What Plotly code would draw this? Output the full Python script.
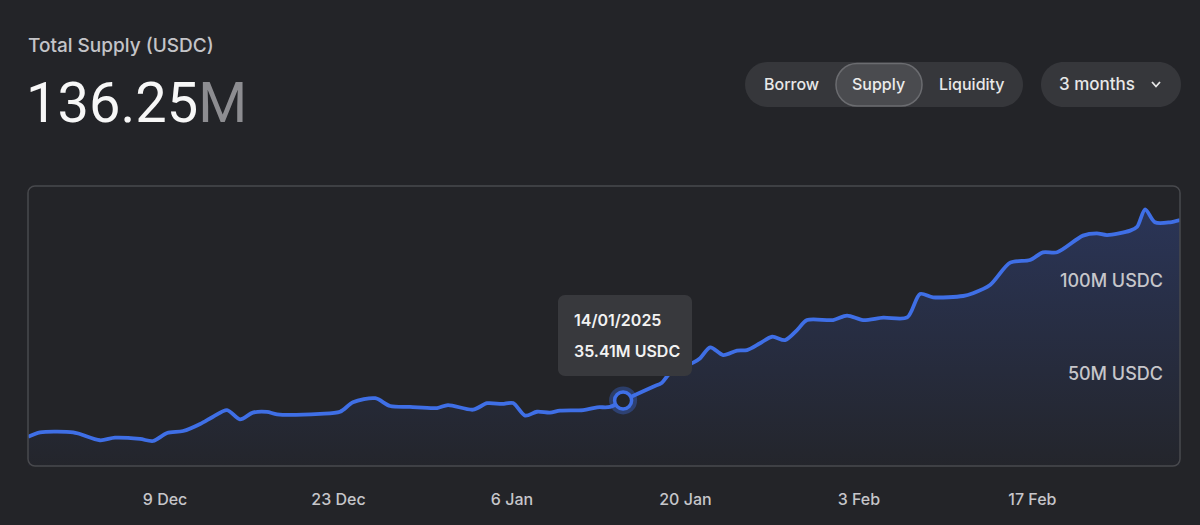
import plotly.graph_objects as go

# ---------------- data ----------------
dates = [
    "2024-11-27 22:30", "2024-11-28 22:00", "2024-12-01 14:00", "2024-12-02 03:00",
    "2024-12-03 18:00", "2024-12-04 23:00", "2024-12-06 23:30", "2024-12-08 00:45",
    "2024-12-09 04:00", "2024-12-10 11:00", "2024-12-11 20:00", "2024-12-12 21:00",
    "2024-12-14 00:00", "2024-12-15 01:00", "2024-12-16 02:00", "2024-12-17 05:30",
    "2024-12-18 01:00", "2024-12-21 12:00", "2024-12-23 03:00", "2024-12-24 04:00",
    "2024-12-25 23:00", "2024-12-27 04:00", "2024-12-28 18:30", "2024-12-30 23:00",
    "2024-12-31 20:00", "2025-01-02 20:30", "2025-01-04 00:00", "2025-01-05 05:00",
    "2025-01-06 02:00", "2025-01-07 01:30", "2025-01-08 00:30", "2025-01-09 01:30",
    "2025-01-09 21:00", "2025-01-11 18:00", "2025-01-12 21:00", "2025-01-13 22:00",
    "2025-01-14 23:15", "2025-01-16 02:30", "2025-01-17 09:30", "2025-01-18 02:30",
    "2025-01-18 18:00", "2025-01-20 15:00", "2025-01-21 04:30", "2025-01-22 00:00",
    "2025-01-23 01:00", "2025-01-24 04:00", "2025-01-24 23:15", "2025-01-26 00:30",
    "2025-01-27 00:00", "2025-01-28 01:00", "2025-01-29 00:15", "2025-01-29 19:40",
    "2025-01-31 22:00", "2025-02-02 01:00", "2025-02-03 08:00", "2025-02-04 23:00",
    "2025-02-06 21:30", "2025-02-07 22:30", "2025-02-08 23:45", "2025-02-11 10:00",
    "2025-02-12 05:00", "2025-02-13 14:00", "2025-02-15 05:00", "2025-02-16 19:30",
    "2025-02-17 20:40", "2025-02-19 00:00", "2025-02-21 02:00", "2025-02-22 05:00",
    "2025-02-23 00:45", "2025-02-24 21:30", "2025-02-25 11:00", "2025-02-26 02:30",
    "2025-02-26 21:30", "2025-02-28 02:40", "2025-02-28 22:00",
]
supply_musdc = [
    15.8, 18.2, 18.2, 17.3,
    13.9, 15.3, 14.6, 13.5,
    17.8, 18.9, 22.7, 26.6,
    30.2, 25.2, 28.8, 29.2,
    27.9, 28.2, 29.3, 34.4,
    36.6, 32.4, 31.9, 31.3,
    32.9, 30.4, 33.9, 33.5,
    34.0, 27.2, 29.3, 28.8,
    29.9, 30.2, 31.7, 31.9,
    35.41, 38.9, 42.8, 45.0,
    50.1, 55.8, 58.2, 64.1,
    59.9, 62.3, 62.6, 66.3,
    69.8, 68.0, 73.4, 78.8,
    78.8, 81.2, 78.8, 80.1,
    80.2, 92.9, 91.1, 91.8,
    93.3, 97.7, 109.8, 111.2,
    115.4, 115.4, 124.4, 125.6,
    124.7, 127.1, 129.2, 138.6,
    131.6, 131.6, 132.8,
]
x_tick_vals = ["2024-12-09", "2024-12-23", "2025-01-06", "2025-01-20", "2025-02-03", "2025-02-17"]
x_tick_text = ["9 Dec", "23 Dec", "6 Jan", "20 Jan", "3 Feb", "17 Feb"]
y_tick_vals = [50, 100]
y_tick_text = ["50M USDC", "100M USDC"]
x_range = ["2024-11-27 22:30", "2025-02-28 22:00"]
y_range = [0, 151.2]

hover_index = 36
hover_label_date = "14/01/2025"
hover_label_value = "35.41M USDC"

title_text = "Total Supply (USDC)"
headline_number = "136.25"
headline_unit = "M"
tabs = ["Borrow", "Supply", "Liquidity"]
period_text = "3 months"

# ---------------- layout helpers ----------------
W, H = 1200, 525
L, R, T, B = 28, 1180, 186, 466
PW, PH = R - L, B - T

BG = "#232428"
BLUE = "#3f6fe6"


def px(x, y):
    return (x - L) / PW, (B - y) / PH


def rrect(x0, y0, x1, y1, r):
    k = 0.5523 * r

    def P(x, y):
        a, b = px(x, y)
        return f"{a:.6f},{b:.6f}"

    d = f"M{P(x0 + r, y0)} L{P(x1 - r, y0)} "
    d += f"C{P(x1 - r + k, y0)} {P(x1, y0 + r - k)} {P(x1, y0 + r)} "
    d += f"L{P(x1, y1 - r)} "
    d += f"C{P(x1, y1 - r + k)} {P(x1 - r + k, y1)} {P(x1 - r, y1)} "
    d += f"L{P(x0 + r, y1)} "
    d += f"C{P(x0 + r - k, y1)} {P(x0, y1 - r + k)} {P(x0, y1 - r)} "
    d += f"L{P(x0, y0 + r)} "
    d += f"C{P(x0, y0 + r - k)} {P(x0 + r - k, y0)} {P(x0 + r, y0)} Z"
    return d


def shape_rr(x0, y0, x1, y1, r, fill, line=None, lw=0):
    return dict(type="path", xref="paper", yref="paper", path=rrect(x0, y0, x1, y1, r),
                fillcolor=fill, line=dict(color=line or "rgba(0,0,0,0)", width=lw),
                layer="above")


def text(x, y, s, size, color, anchor="center", family="Inter", weight=400):
    a, b = px(x, y)
    return dict(x=a, y=b, xref="paper", yref="paper", text=s, showarrow=False,
                xanchor=anchor, yanchor="middle",
                font=dict(family=family, size=size, color=color, weight=weight))


fig = go.Figure()

fig.add_trace(go.Scatter(
    x=dates, y=supply_musdc, mode="lines",
    line=dict(color=BLUE, width=3.8, shape="spline", smoothing=0.8),
    fill="tozeroy",
    fillgradient=dict(type="vertical",
                      colorscale=[[0, "rgba(63,100,220,0.02)"], [1, "rgba(63,100,220,0.26)"]]),
    hoverinfo="skip", showlegend=False,
))

# hover marker
fig.add_trace(go.Scatter(
    x=[dates[hover_index]], y=[supply_musdc[hover_index]], mode="markers",
    marker=dict(size=28, color="rgba(63,111,230,0.35)", line=dict(width=0)),
    hoverinfo="skip", showlegend=False,
))
fig.add_trace(go.Scatter(
    x=[dates[hover_index]], y=[supply_musdc[hover_index]], mode="markers",
    marker=dict(size=17, color=BG, line=dict(width=3.5, color=BLUE)),
    hoverinfo="skip", showlegend=False,
))

shapes = []
# plot border
shapes.append(dict(type="path", xref="paper", yref="paper", path=rrect(L, T, R, B, 7),
                   fillcolor="rgba(0,0,0,0)", line=dict(color="#48494d", width=1.5),
                   layer="above"))
# tooltip
shapes.append(shape_rr(558, 295, 692, 376, 7, "#38393d"))
# tabs group
shapes.append(shape_rr(745, 62, 1023, 107, 22.5, "#36373b"))
shapes.append(shape_rr(836, 63.5, 922, 106, 21, "#4a4b4f", "#6b6c70", 1.5))
# period dropdown
shapes.append(shape_rr(1041, 62, 1181, 107, 22.5, "#36373b"))
# chevron
c0, c1, c2 = px(1152, 82), px(1156, 86.5), px(1160, 82)
shapes.append(dict(type="path", xref="paper", yref="paper",
                   path=f"M{c0[0]},{c0[1]} L{c1[0]},{c1[1]} L{c2[0]},{c2[1]}",
                   line=dict(color="#e6e6e6", width=1.8), layer="above"))

annotations = [
    text(26, 45, title_text, 19, "#c4c4c8", anchor="left", weight=500),
    text(24, 103, f"{headline_number}<span style='color:#8d8d91'>{headline_unit}</span>",
         56, "#f7f7f7", anchor="left", family="Roboto", weight=400),
    text(791, 84.5, tabs[0], 16, "#e8e8e8", weight=500),
    text(878.5, 84.5, tabs[1], 16, "#ececec", weight=500),
    text(971.5, 84.5, tabs[2], 16, "#e8e8e8", weight=500),
    text(1097, 84.5, period_text, 17, "#e8e8e8", weight=500),
    text(572, 319.5, hover_label_date, 16, "#f2f2f2", anchor="left", weight=600),
    text(572, 351, hover_label_value, 16, "#f2f2f2", anchor="left", weight=600),
]

fig.update_layout(
    width=W, height=H,
    margin=dict(l=L, r=W - R, t=T, b=H - B, pad=0),
    paper_bgcolor=BG, plot_bgcolor=BG,
    shapes=shapes, annotations=annotations,
    showlegend=False,
    xaxis=dict(range=x_range, tickvals=x_tick_vals, ticktext=x_tick_text,
               showgrid=False, zeroline=False, showline=False, ticks="",
               tickfont=dict(family="Inter", size=16, color="#c6c6ca", weight=500),
               ticklabelstandoff=22, fixedrange=True),
    yaxis=dict(range=y_range, tickvals=y_tick_vals, ticktext=y_tick_text,
               side="right", ticklabelposition="inside",
               showgrid=False, zeroline=False, showline=False, ticks="",
               tickfont=dict(family="Inter", size=18, color="#c6c6ca", weight=500),
               ticklabelstandoff=14, fixedrange=True),
)

fig.write_html("out.html",
               config={"displayModeBar": False},
               post_script="document.body.style.margin='0';"
                           "document.body.style.background='#232428';")
